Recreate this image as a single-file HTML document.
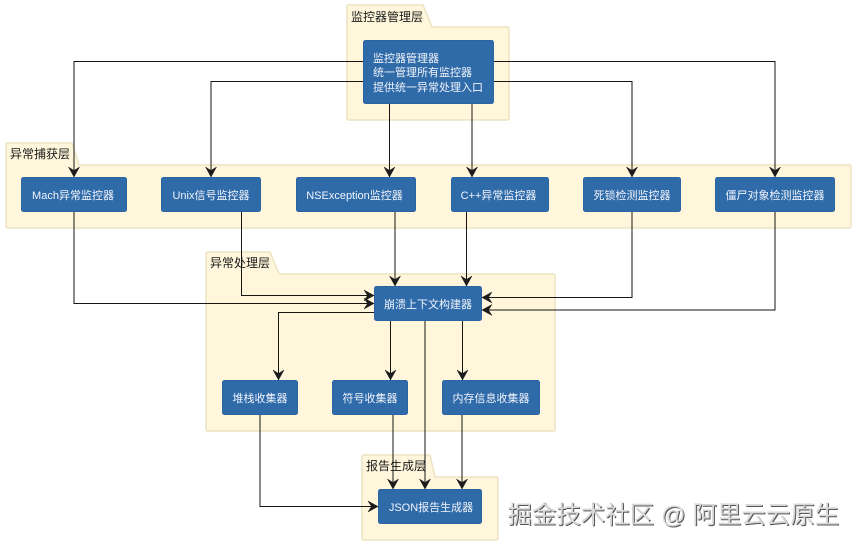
<!DOCTYPE html>
<html><head><meta charset="utf-8"><style>
html,body{margin:0;padding:0;background:#fff}
svg{display:block}
text{font-family:"Liberation Sans","WenQuanYi Zen Hei","Noto Sans CJK SC",sans-serif}
.n{fill:#2f6aa9;stroke:#2a64a2;stroke-width:1}
.p{fill:#fff6db;stroke:#ebe4c2;stroke-width:1.5}
.t{fill:#f0f4fb;font-size:11px;text-anchor:middle}
.l{fill:#1a1a1a;font-size:12px}
.c{fill:none;stroke:#161616;stroke-width:1}
</style></head><body>
<svg width="858" height="546" viewBox="0 0 858 546" xmlns="http://www.w3.org/2000/svg">
<defs><marker id="a" markerUnits="userSpaceOnUse" markerWidth="14" markerHeight="14" refX="10.500" refY="6" orient="auto"><path d="M0.500,0.500 L10.500,6 L0.500,11.500 L4,6 Z" fill="#1c1c1c" stroke="#1c1c1c" stroke-width="0.500"/></marker></defs>
<path class="p" d="M347 27V7q0-2 2-2h74l9 22h75q2 0 2 2v89q0 2-2 2H349q-2 0-2-2Z"/>
<path class="p" d="M6 165V145q0-2 2-2h64l7 22h770q2 0 2 2v59q0 2-2 2H8q-2 0-2-2Z"/>
<path class="p" d="M206 274V254q0-2 2-2h62l9 22h274q2 0 2 2v153q0 2-2 2H208q-2 0-2-2Z"/>
<path class="p" d="M362 477V457q0-2 2-2h66l5 22h61q2 0 2 2v59q0 2-2 2H364q-2 0-2-2Z"/>
<text class="l" x="351" y="21">监控器管理层</text>
<text class="l" x="10" y="158">异常捕获层</text>
<text class="l" x="210" y="267">异常处理层</text>
<text class="l" x="366" y="470">报告生成层</text>
<g class="c">
<path d="M363 61.500H74V177" marker-end="url(#a)"/>
<path d="M363 81.500H211V177" marker-end="url(#a)"/>
<path d="M389.500 104V177" marker-end="url(#a)"/>
<path d="M472 104V177" marker-end="url(#a)"/>
<path d="M493 81.500H632V177" marker-end="url(#a)"/>
<path d="M493 61.500H775V177" marker-end="url(#a)"/>
<path d="M74 212V303.500H374" marker-end="url(#a)"/>
<path d="M241.500 212V295.500H374" marker-end="url(#a)"/>
<path d="M395 212V286" marker-end="url(#a)"/>
<path d="M466.500 212V286" marker-end="url(#a)"/>
<path d="M632 212V297.500H482" marker-end="url(#a)"/>
<path d="M775 212V310H482" marker-end="url(#a)"/>
<path d="M374 312.500H278.500V380" marker-end="url(#a)"/>
<path d="M390.500 321V380" marker-end="url(#a)"/>
<path d="M462.500 321V380" marker-end="url(#a)"/>
<path d="M425 321V489" marker-end="url(#a)"/>
<path d="M260 415V506.500H378" marker-end="url(#a)"/>
<path d="M393 415V489" marker-end="url(#a)"/>
<path d="M462 415V489" marker-end="url(#a)"/>
</g>
<rect class="n" x="363.500" y="40.500" width="130" height="63" rx="2"/>
<rect class="n" x="21.500" y="177.500" width="105" height="34" rx="2"/>
<rect class="n" x="161.500" y="177.500" width="99" height="34" rx="2"/>
<rect class="n" x="296.500" y="177.500" width="119" height="34" rx="2"/>
<rect class="n" x="451.500" y="177.500" width="97" height="34" rx="2"/>
<rect class="n" x="583.500" y="177.500" width="97" height="34" rx="2"/>
<rect class="n" x="715.500" y="177.500" width="119" height="34" rx="2"/>
<rect class="n" x="374.500" y="286.500" width="107" height="34" rx="2"/>
<rect class="n" x="222.500" y="380.500" width="75" height="34" rx="2"/>
<rect class="n" x="332.500" y="380.500" width="75" height="34" rx="2"/>
<rect class="n" x="442.500" y="380.500" width="97" height="34" rx="2"/>
<rect class="n" x="378.500" y="489.500" width="103" height="34" rx="2"/>
<text class="t" x="373" y="62" style="text-anchor:start">监控器管理器</text>
<text class="t" x="373" y="76" style="text-anchor:start">统一管理所有监控器</text>
<text class="t" x="373" y="91" style="text-anchor:start">提供统一异常处理入口</text>
<text class="t" x="73" y="199">Mach异常监控器</text>
<text class="t" x="211" y="199">Unix信号监控器</text>
<text class="t" x="354.500" y="199">NSException监控器</text>
<text class="t" x="498.500" y="199">C++异常监控器</text>
<text class="t" x="632" y="199">死锁检测监控器</text>
<text class="t" x="775" y="199">僵尸对象检测监控器</text>
<text class="t" x="428" y="308">崩溃上下文构建器</text>
<text class="t" x="260" y="402">堆栈收集器</text>
<text class="t" x="370" y="402">符号收集器</text>
<text class="t" x="491" y="402">内存信息收集器</text>
<text class="t" x="431" y="511">JSON报告生成器</text>
<text x="507.500" y="523" style="font-size:24.450px;fill:#555" transform="translate(1,1)">掘金技术社区 @ 阿里云云原生</text>
<text x="507.500" y="523" style="font-size:24.450px;fill:#d8d8d8">掘金技术社区 @ 阿里云云原生</text>
</svg>
</body></html>
